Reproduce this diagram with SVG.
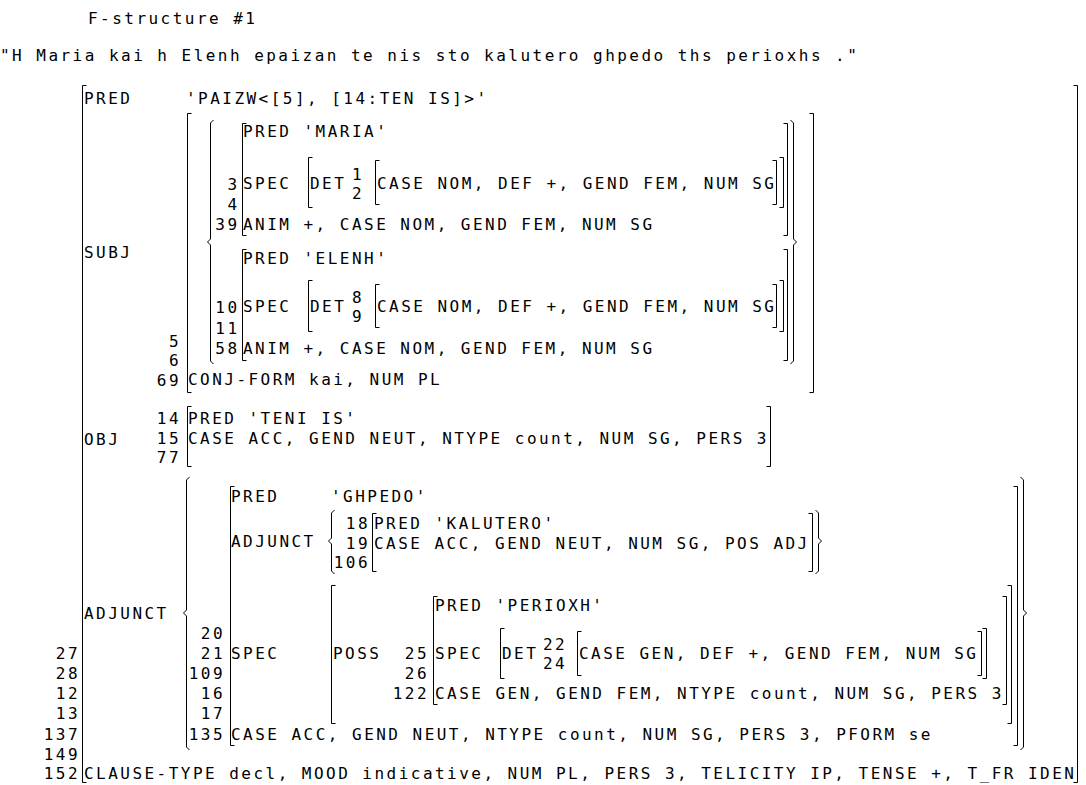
<svg xmlns="http://www.w3.org/2000/svg" width="1086" height="785" viewBox="0 0 1086 785">
<style>
.t{font-family:"DejaVu Sans Mono","Liberation Mono",monospace;font-size:16px;letter-spacing:2.47px;fill:#000}
.b{fill:none;stroke:#000;stroke-width:1}
</style>
<rect width="1086" height="785" fill="#fff"/>
<g id="header">
<text class="t" x="88" y="24">F-structure #1</text>
<text class="t" x="0" y="61">"H Maria kai h Elenh epaizan te nis sto kalutero ghpedo ths perioxhs ."</text>
</g>
<g id="fs-top">
<path class="b" d="M86.5,85.5H82.5V782.5H86.5M1073.5,85.5H1077.5V782.5H1073.5"/>
<text class="t" x="84" y="104">PRED</text>
<text class="t" x="186" y="104">'PAIZW&lt;[5], [14:TEN IS]&gt;'</text>
<text class="t" x="84" y="258">SUBJ</text>
<text class="t" x="84" y="445">OBJ</text>
<text class="t" x="84" y="619">ADJUNCT</text>
<text class="t"><tspan x="55.8" y="659">27</tspan><tspan x="55.8" y="679">28</tspan><tspan x="55.8" y="699">12</tspan><tspan x="55.8" y="719">13</tspan><tspan x="43.7" y="740">137</tspan><tspan x="43.7" y="759.5">149</tspan><tspan x="43.7" y="779">152</tspan></text>
<text class="t" x="84" y="779">CLAUSE-TYPE decl, MOOD indicative, NUM PL, PERS 3, TELICITY IP, TENSE +, T_FR IDEN</text>
</g>
<g id="subj">
<path class="b" d="M191.5,113.5H187.5V392.5H191.5M809.5,113.5H813.5V392.5H809.5"/>
<path class="b" d="M213.5,120L210.5,123V239L207.5,242L210.5,245V361L213.5,364M790.5,120L793.5,123V239L796.5,242L793.5,245V361L790.5,364"/>
<text class="t"><tspan x="168.9" y="346.5">5</tspan><tspan x="168.9" y="366">6</tspan><tspan x="156.8" y="385.5">69</tspan></text>
<text class="t" x="188" y="385">CONJ-FORM kai, NUM PL</text>
</g>
<g id="maria">
<path class="b" d="M246.5,123.5H242.5V235.5H246.5M783.5,123.5H787.5V235.5H783.5"/>
<path class="b" d="M312.5,157.5H308.5V207.5H312.5M779.5,157.5H783.5V207.5H779.5"/>
<path class="b" d="M379.5,160.5H375.5V204.5H379.5M772.5,160.5H776.5V204.5H772.5"/>
<text class="t" x="243" y="137">PRED 'MARIA'</text>
<text class="t"><tspan x="227.4" y="190">3</tspan><tspan x="227.4" y="210">4</tspan><tspan x="215.3" y="230">39</tspan></text>
<text class="t" x="243" y="189">SPEC</text>
<text class="t" x="310" y="189">DET</text>
<text class="t"><tspan x="352" y="179.7">1</tspan><tspan x="352" y="198.5">2</tspan></text>
<text class="t" x="377" y="189">CASE NOM, DEF +, GEND FEM, NUM SG</text>
<text class="t" x="243" y="230">ANIM +, CASE NOM, GEND FEM, NUM SG</text>
</g>
<g id="elenh">
<path class="b" d="M246.5,249.5H242.5V360.5H246.5M783.5,249.5H787.5V360.5H783.5"/>
<path class="b" d="M312.5,280.5H308.5V331.5H312.5M779.5,280.5H783.5V331.5H779.5"/>
<path class="b" d="M379.5,284.5H375.5V327.5H379.5M772.5,284.5H776.5V327.5H772.5"/>
<text class="t" x="243" y="264">PRED 'ELENH'</text>
<text class="t"><tspan x="215.3" y="313">10</tspan><tspan x="215.3" y="333.5">11</tspan><tspan x="215.3" y="354">58</tspan></text>
<text class="t" x="243" y="312">SPEC</text>
<text class="t" x="310" y="312">DET</text>
<text class="t"><tspan x="352" y="302.7">8</tspan><tspan x="352" y="321.5">9</tspan></text>
<text class="t" x="377" y="312">CASE NOM, DEF +, GEND FEM, NUM SG</text>
<text class="t" x="243" y="354">ANIM +, CASE NOM, GEND FEM, NUM SG</text>
</g>
<g id="obj">
<path class="b" d="M191.5,406.5H187.5V466.5H191.5M766.5,406.5H770.5V466.5H766.5"/>
<text class="t"><tspan x="156.8" y="424">14</tspan><tspan x="156.8" y="444">15</tspan><tspan x="156.8" y="463">77</tspan></text>
<text class="t" x="188" y="424">PRED 'TENI IS'</text>
<text class="t" x="188" y="444">CASE ACC, GEND NEUT, NTYPE count, NUM SG, PERS 3</text>
</g>
<g id="adjunct-set">
<path class="b" d="M189.5,477L186.5,480V610L183.5,613L186.5,616V747L189.5,750M1020.5,477L1023.5,480V610L1026.5,613L1023.5,616V747L1020.5,750"/>
</g>
<g id="ghpedo">
<path class="b" d="M234.5,486.5H230.5V745.5H234.5M1013.5,486.5H1017.5V745.5H1013.5"/>
<text class="t" x="231" y="502">PRED</text>
<text class="t" x="331" y="502">'GHPEDO'</text>
<text class="t" x="231" y="547">ADJUNCT</text>
<text class="t"><tspan x="200.8" y="639">20</tspan><tspan x="200.8" y="659">21</tspan><tspan x="188.7" y="679">109</tspan><tspan x="200.8" y="699">16</tspan><tspan x="200.8" y="719">17</tspan><tspan x="188.7" y="740">135</tspan></text>
<text class="t" x="231" y="659">SPEC</text>
<text class="t" x="231" y="740">CASE ACC, GEND NEUT, NTYPE count, NUM SG, PERS 3, PFORM se</text>
</g>
<g id="kalutero">
<path class="b" d="M334.5,510L331.5,513V538L328.5,541L331.5,544V571L334.5,574M815.5,510L818.5,513V538L821.5,541L818.5,544V571L815.5,574"/>
<path class="b" d="M376.5,513.5H372.5V571.5H376.5M808.5,513.5H812.5V571.5H808.5"/>
<text class="t"><tspan x="345.8" y="529">18</tspan><tspan x="345.8" y="548.5">19</tspan><tspan x="333.7" y="567.5">106</tspan></text>
<text class="t" x="374" y="529">PRED 'KALUTERO'</text>
<text class="t" x="374" y="548.5">CASE ACC, GEND NEUT, NUM SG, POS ADJ</text>
</g>
<g id="poss">
<path class="b" d="M335.5,585.5H331.5V723.5H335.5M1007.5,585.5H1011.5V723.5H1007.5"/>
<text class="t" x="333" y="659">POSS</text>
</g>
<g id="perioxh">
<path class="b" d="M437.5,596.5H433.5V704.5H437.5M1002.5,596.5H1006.5V704.5H1002.5"/>
<path class="b" d="M504.5,628.5H500.5V678.5H504.5M982.5,628.5H986.5V678.5H982.5"/>
<path class="b" d="M581.5,631.5H577.5V675.5H581.5M977.5,631.5H981.5V675.5H977.5"/>
<text class="t" x="435" y="611">PRED 'PERIOXH'</text>
<text class="t"><tspan x="404.8" y="659">25</tspan><tspan x="404.8" y="679">26</tspan><tspan x="392.7" y="699">122</tspan></text>
<text class="t" x="435" y="659">SPEC</text>
<text class="t" x="502" y="659">DET</text>
<text class="t"><tspan x="543" y="649.7">22</tspan><tspan x="543" y="668.5">24</tspan></text>
<text class="t" x="579" y="659">CASE GEN, DEF +, GEND FEM, NUM SG</text>
<text class="t" x="435" y="699">CASE GEN, GEND FEM, NTYPE count, NUM SG, PERS 3</text>
</g>
<g id="connectors"/>
</svg>
